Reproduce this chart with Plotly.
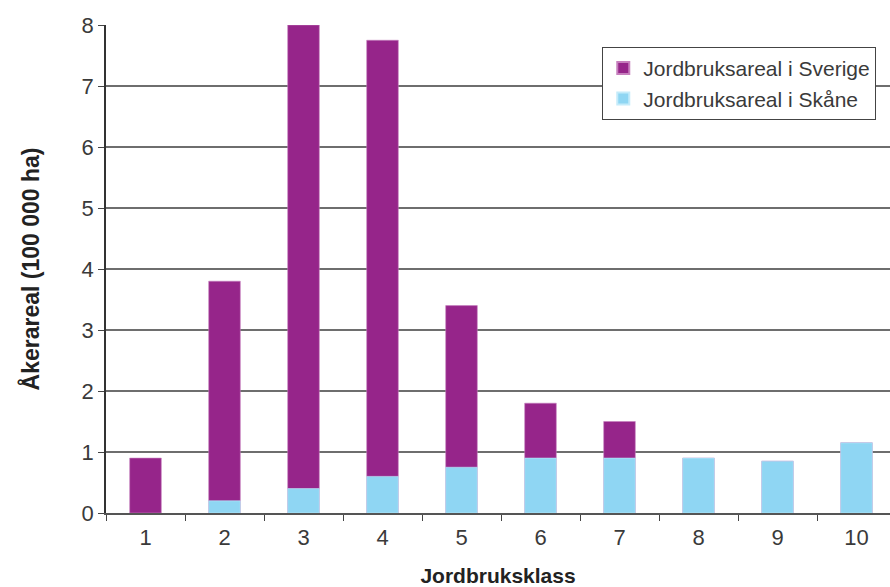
import plotly.graph_objects as go

klasser = ["1", "2", "3", "4", "5", "6", "7", "8", "9", "10"]
sverige = [0.9, 3.8, 8.0, 7.75, 3.4, 1.8, 1.5, 0.9, 0.85, 1.15]
skane = [None, 0.2, 0.4, 0.6, 0.75, 0.9, 0.9, 0.9, 0.85, 1.15]

PURPLE = "#96258A"
CYAN = "#8FD6F3"
TEXT = "#3a3a3a"
FONT = "Liberation Sans Narrow, Arial Narrow, Liberation Sans, sans-serif"

fig = go.Figure()
fig.add_trace(go.Bar(
    x=klasser, y=sverige, name="Jordbruksareal i Sverige",
    marker=dict(color=PURPLE, line=dict(color="#c67fbd", width=0.6)),
    width=0.4,
))
fig.add_trace(go.Bar(
    x=klasser, y=skane, name="Jordbruksareal i Skåne",
    marker=dict(color=CYAN, line=dict(color="#c4ebfa", width=0.6)),
    width=0.4,
))

fig.update_layout(
    width=890, height=587,
    barmode="overlay",
    plot_bgcolor="white", paper_bgcolor="white",
    margin=dict(l=106, r=0, t=25, b=74),
    font=dict(family=FONT, size=22, color=TEXT),
    legend=dict(
        x=0.633, y=0.955, xanchor="left", yanchor="top",
        bordercolor="#444444", borderwidth=1, bgcolor="white",
        font=dict(size=21, color=TEXT),
        tracegroupgap=8, itemsizing="constant",
    ),
    showlegend=True,
)
fig.update_xaxes(
    type="category", range=[-0.5, 9.424],
    tickson="boundaries", ticks="outside", ticklen=6, tickcolor="#444444",
    ticklabelstandoff=4,
    showgrid=False, showline=True, linecolor="#555555", linewidth=1.5,
    title=dict(text="<b>Jordbruksklass</b>", font=dict(size=21, color="#222222"), standoff=20),
    tickfont=dict(size=22, color=TEXT),
)
fig.update_yaxes(
    range=[0, 8], dtick=1, ticks="outside", ticklen=6, tickcolor="#444444",
    showgrid=True, gridcolor="#6e6e6e", gridwidth=1.5,
    showline=True, linecolor="#333333", linewidth=1.5,
    zeroline=False,
    title=dict(text="<b>Åkerareal (100 000 ha)</b>", font=dict(size=23, color="#222222"), standoff=36),
    tickfont=dict(size=22, color=TEXT),
)

fig.write_html("out.html")
